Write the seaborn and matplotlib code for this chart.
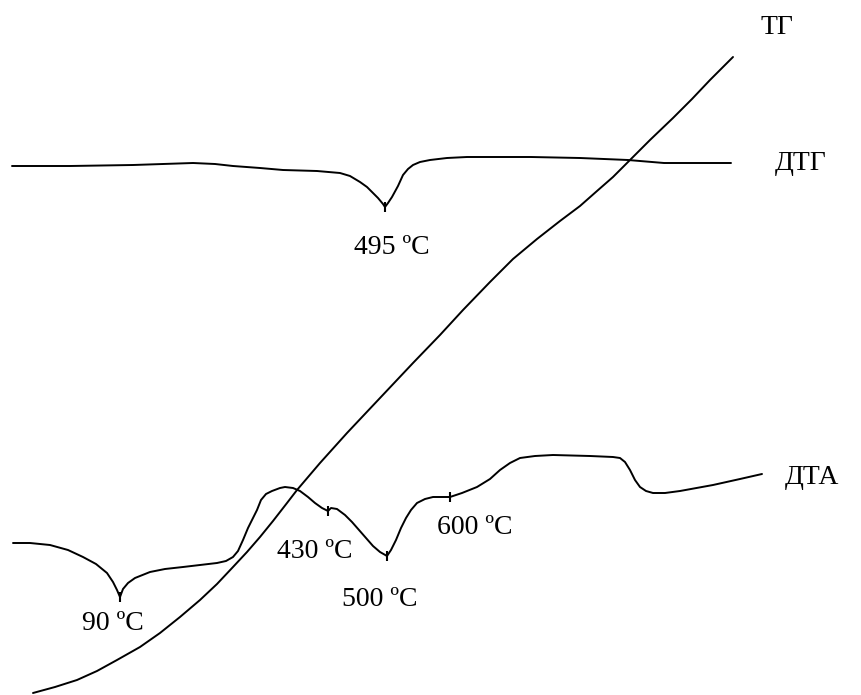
import matplotlib
matplotlib.use("Agg")
import matplotlib.pyplot as plt
import seaborn as sns
import pandas as pd

sns.set_theme(style="white")
plt.rcParams['font.family'] = ['Liberation Serif', 'DejaVu Serif']

# Curve traces (horizontal position, vertical position; y grows downward)
tg_x = [33, 55, 77, 97, 117, 140, 160, 180, 200, 217, 233, 247, 260, 273, 287, 297, 320,
        347, 380, 413, 440, 463, 490, 513, 537, 560, 580, 597, 613, 628, 650, 673, 692,
        710, 733]
tg_y = [693, 687, 680, 671, 660, 647, 633, 617, 600, 584, 567, 552, 537, 521, 503, 490, 463,
        433, 398, 363, 335, 310, 282, 259, 239, 221, 206, 191, 177, 162, 140, 118, 99,
        80, 57]

dtg_x = [12, 70, 133, 193, 215, 233, 260, 283, 317, 340, 350, 360, 367, 373, 378, 383, 385,
         388, 392, 398, 403, 408, 413, 420, 430, 447, 467, 531, 580, 628, 664, 700, 731]
dtg_y = [166, 166, 165, 163, 164, 166, 168, 170, 171, 173, 176, 182, 187, 193, 198, 204, 207,
         203, 197, 186, 175, 169, 165, 162, 160, 158, 157, 157, 158, 160, 163, 163, 163]

dta_x = [13, 30, 50, 68, 83, 96, 107, 113, 117, 120, 123, 128, 135, 150, 165, 183, 200, 217,
         226, 233, 238, 243, 248, 253, 257, 261, 266, 272, 280, 285, 293, 300, 308, 315,
         322, 328, 331, 337, 345, 352, 359, 366, 373, 380, 387, 391, 396, 401, 406, 411,
         417, 425, 433, 450, 462, 477, 490, 500, 510, 520, 535, 553, 590, 613, 620, 625,
         630, 635, 640, 646, 653, 665, 680, 713, 740, 762]
dta_y = [543, 543, 545, 550, 557, 564, 573, 582, 590, 597, 589, 583, 578, 572, 569, 567, 565,
         563, 561, 557, 551, 540, 528, 518, 510, 500, 494, 491, 488, 487, 488, 491, 497,
         503, 508, 511, 508, 509, 515, 522, 530, 538, 546, 552, 556, 550, 540, 528, 518,
         510, 503, 499, 497, 497, 493, 487, 479, 470, 463, 458, 456, 455, 456, 457, 458,
         462, 470, 480, 487, 491, 493, 493, 491, 485, 479, 474]

# Peak annotations
peak_labels = ["495 ºC", "90 ºC", "430 ºC", "500 ºC", "600 ºC"]
peak_x = [385, 120, 328, 387, 450]
peak_y = [207, 597, 511, 556, 497]
label_x = [392, 113, 315, 380, 475]
label_y = [247, 623, 552, 599, 528]

curve_names = ["ТГ", "ДТГ", "ДТА"]
name_x = [777, 801, 812]
name_y = [27, 163, 478]

fig = plt.figure(figsize=(8.62, 6.95), dpi=100)
ax = fig.add_axes([0, 0, 1, 1])

for xs, ys in [(tg_x, tg_y), (dtg_x, dtg_y), (dta_x, dta_y)]:
    df = pd.DataFrame({"x": xs, "y": ys})
    sns.lineplot(data=df, x="x", y="y", sort=False, estimator=None,
                 color="black", linewidth=1.4, ax=ax)

ax.scatter(peak_x, peak_y, marker="|", s=45, color="black", linewidths=1.5, zorder=3)

for t, x, y in zip(peak_labels, label_x, label_y):
    ax.text(x, y, t, ha="center", va="center", fontsize=20, color="black")
for t, x, y in zip(curve_names, name_x, name_y):
    ax.text(x, y, t, ha="center", va="center", fontsize=20, color="black")

ax.set_xlim(0, 862)
ax.set_ylim(695, 0)
ax.axis("off")

fig.savefig("out.png", dpi=100, facecolor="white")
